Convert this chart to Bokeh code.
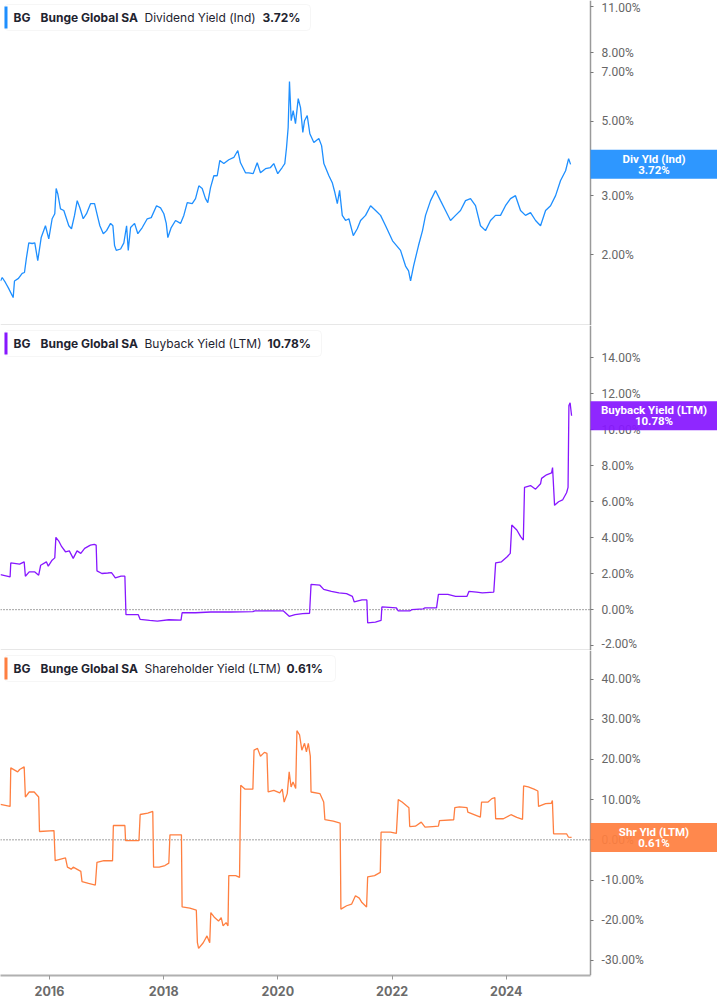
import math
import pandas as pd
from bokeh.plotting import figure
from bokeh.models import (Range1d, FixedTicker, PrintfTickFormatter, DatetimeTickFormatter,
                          Label, BoxAnnotation)
from bokeh.layouts import column
from bokeh.embed import file_html
from bokeh.resources import INLINE

# ---------------- data (decimal years, percent values) ----------------
div_t = [2015.142, 2015.172, 2015.230, 2015.282, 2015.364, 2015.387, 2015.457, 2015.522, 2015.562, 2015.597,
         2015.638, 2015.697, 2015.743, 2015.795, 2015.855, 2015.930, 2015.988, 2016.047, 2016.093, 2016.117,
         2016.145, 2016.193, 2016.251, 2016.338, 2016.385, 2016.438, 2016.485, 2016.531, 2016.590, 2016.648,
         2016.718, 2016.788, 2016.846, 2016.881, 2016.941, 2016.998, 2017.068, 2017.109, 2017.138, 2017.168,
         2017.244, 2017.301, 2017.349, 2017.378, 2017.419, 2017.489, 2017.546, 2017.624, 2017.711, 2017.781,
         2017.874, 2017.944, 2018.002, 2018.044, 2018.072, 2018.131, 2018.207, 2018.294, 2018.352, 2018.412,
         2018.499, 2018.557, 2018.615, 2018.674, 2018.732, 2018.772, 2018.820, 2018.878, 2018.937, 2018.983,
         2019.053, 2019.140, 2019.228, 2019.298, 2019.345, 2019.433, 2019.490, 2019.567, 2019.638, 2019.695,
         2019.783, 2019.871, 2019.928, 2019.998, 2020.075, 2020.121, 2020.151, 2020.180, 2020.203, 2020.233,
         2020.268, 2020.308, 2020.356, 2020.396, 2020.436, 2020.466, 2020.513, 2020.559, 2020.629, 2020.716,
         2020.764, 2020.804, 2020.892, 2020.951, 2020.997, 2021.039, 2021.079, 2021.126, 2021.184, 2021.242,
         2021.319, 2021.389, 2021.447, 2021.534, 2021.622, 2021.710, 2021.797, 2021.885, 2022.007, 2022.147,
         2022.235, 2022.288, 2022.323, 2022.375, 2022.462, 2022.532, 2022.585, 2022.673, 2022.760, 2022.848,
         2022.935, 2023.023, 2023.111, 2023.198, 2023.286, 2023.373, 2023.461, 2023.548, 2023.636, 2023.724,
         2023.811, 2023.899, 2023.986, 2024.074, 2024.161, 2024.249, 2024.336, 2024.424, 2024.512, 2024.599,
         2024.687, 2024.774, 2024.862, 2024.949, 2025.037, 2025.090, 2025.124]
div_v = [1.67, 1.71, 1.65, 1.59, 1.49, 1.67, 1.70, 1.76, 1.77, 1.96,
         2.17, 2.16, 2.17, 1.92, 2.25, 2.44, 2.23, 2.56, 2.65, 3.15,
         3.04, 2.74, 2.71, 2.44, 2.39, 2.62, 2.90, 2.76, 2.56, 2.65,
         2.84, 2.84, 2.58, 2.44, 2.31, 2.36, 2.48, 2.44, 2.13, 2.06,
         2.08, 2.17, 2.44, 2.06, 2.41, 2.48, 2.31, 2.41, 2.56, 2.58,
         2.80, 2.76, 2.65, 2.48, 2.25, 2.41, 2.53, 2.48, 2.62, 2.86,
         2.84, 2.94, 3.21, 3.15, 2.94, 2.86, 3.17, 3.44, 3.44, 3.82,
         3.74, 3.84, 3.90, 4.09, 3.76, 3.51, 3.51, 3.49, 3.76, 3.51,
         3.61, 3.64, 3.74, 3.49, 3.64, 3.74, 4.17, 4.79, 6.57, 5.02,
         5.38, 4.92, 5.84, 5.49, 4.63, 5.02, 5.20, 4.59, 4.32, 4.44,
         4.23, 3.74, 3.44, 3.28, 3.06, 2.84, 3.11, 2.62, 2.53, 2.56,
         2.28, 2.39, 2.53, 2.62, 2.80, 2.71, 2.62, 2.44, 2.20, 2.06,
         1.85, 1.79, 1.67, 1.85, 2.13, 2.36, 2.62, 2.90, 3.11, 2.90,
         2.71, 2.53, 2.62, 2.71, 2.90, 2.94, 2.80, 2.44, 2.36, 2.53,
         2.62, 2.62, 2.80, 2.94, 3.00, 2.71, 2.62, 2.67, 2.53, 2.44,
         2.71, 2.80, 3.00, 3.33, 3.56, 3.87, 3.72]

bb_t = [2015.142, 2015.310, 2015.322, 2015.477, 2015.557, 2015.578, 2015.645, 2015.744, 2015.811, 2015.846,
        2015.946, 2015.979, 2016.046, 2016.093, 2016.112, 2016.160, 2016.214, 2016.280, 2016.347, 2016.415,
        2016.482, 2016.548, 2016.615, 2016.716, 2016.783, 2016.816, 2016.830, 2016.916, 2017.018, 2017.084,
        2017.117, 2017.151, 2017.252, 2017.319, 2017.338, 2017.554, 2017.587, 2017.753, 2017.888, 2018.089,
        2018.303, 2018.322, 2018.557, 2018.825, 2019.160, 2019.562, 2019.596, 2019.830, 2020.098, 2020.198,
        2020.300, 2020.433, 2020.554, 2020.580, 2020.734, 2020.801, 2020.935, 2021.068, 2021.201, 2021.303,
        2021.336, 2021.471, 2021.557, 2021.571, 2021.706, 2021.806, 2021.820, 2022.074, 2022.107, 2022.309,
        2022.342, 2022.543, 2022.576, 2022.778, 2022.811, 2022.977, 2023.111, 2023.312, 2023.347, 2023.480,
        2023.580, 2023.781, 2023.814, 2023.916, 2024.016, 2024.070, 2024.096, 2024.184, 2024.251, 2024.298,
        2024.319, 2024.424, 2024.512, 2024.599, 2024.617, 2024.704, 2024.792, 2024.809, 2024.844, 2024.914,
        2024.984, 2025.054, 2025.080, 2025.095, 2025.116, 2025.142]
bb_v = [1.95, 1.82, 2.60, 2.53, 2.66, 1.86, 2.10, 2.10, 1.92, 2.47,
        2.66, 2.42, 2.75, 2.88, 4.02, 3.83, 3.50, 3.22, 3.27, 2.85,
        3.27, 3.13, 3.41, 3.59, 3.63, 3.59, 2.16, 2.01, 2.04, 2.06,
        1.92, 1.77, 1.86, 1.86, -0.28, -0.28, -0.54, -0.60, -0.64, -0.56,
        -0.58, -0.17, -0.17, -0.13, -0.13, -0.11, -0.07, -0.07, -0.07, -0.37,
        -0.28, -0.22, -0.20, 1.41, 1.36, 1.13, 1.02, 0.93, 0.89, 0.74,
        0.43, 0.54, 0.54, -0.73, -0.69, -0.60, 0.15, 0.10, -0.07, -0.07,
        0.00, 0.05, 0.10, 0.10, 0.85, 0.85, 0.74, 0.74, 1.02, 0.98,
        0.93, 0.98, 2.60, 2.66, 2.94, 3.13, 4.71, 4.43, 4.06, 3.87,
        6.80, 6.90, 6.70, 7.00, 7.30, 7.50, 7.60, 7.90, 5.80, 6.00,
        6.10, 6.50, 6.80, 11.35, 11.50, 10.78]

sh_t = [2015.142, 2015.310, 2015.322, 2015.443, 2015.477, 2015.557, 2015.578, 2015.645, 2015.732, 2015.811,
        2015.825, 2016.079, 2016.100, 2016.280, 2016.314, 2016.380, 2016.415, 2016.548, 2016.569, 2016.683,
        2016.802, 2016.830, 2016.951, 2017.103, 2017.117, 2017.319, 2017.331, 2017.566, 2017.587, 2017.720,
        2017.808, 2017.822, 2017.921, 2018.021, 2018.089, 2018.109, 2018.310, 2018.322, 2018.457, 2018.571,
        2018.590, 2018.611, 2018.692, 2018.758, 2018.806, 2018.825, 2018.891, 2018.960, 2019.007, 2019.040,
        2019.093, 2019.126, 2019.140, 2019.261, 2019.328, 2019.349, 2019.427, 2019.562, 2019.582, 2019.643,
        2019.695, 2019.764, 2019.809, 2019.830, 2019.930, 2020.032, 2020.077, 2020.110, 2020.164, 2020.198,
        2020.231, 2020.265, 2020.312, 2020.333, 2020.379, 2020.419, 2020.466, 2020.499, 2020.532, 2020.567,
        2020.580, 2020.734, 2020.801, 2020.822, 2020.969, 2021.089, 2021.102, 2021.203, 2021.289, 2021.357,
        2021.424, 2021.471, 2021.552, 2021.571, 2021.692, 2021.792, 2021.806, 2021.972, 2022.074, 2022.107,
        2022.174, 2022.294, 2022.308, 2022.408, 2022.510, 2022.576, 2022.709, 2022.811, 2022.830, 2023.079,
        2023.098, 2023.179, 2023.312, 2023.326, 2023.546, 2023.567, 2023.681, 2023.748, 2023.800, 2023.814,
        2023.949, 2024.082, 2024.184, 2024.284, 2024.303, 2024.384, 2024.485, 2024.552, 2024.564, 2024.687,
        2024.787, 2024.806, 2024.827, 2025.054, 2025.088, 2025.142]
sh_v = [8.8, 8.3, 17.9, 16.9, 17.5, 18.15, 10.65, 11.9, 11.9, 10.65,
        2.07, 2.3, -5.2, -4.5, -6.8, -7.3, -6.8, -7.85, -10.4, -10.85,
        -11.25, -5.6, -5.2, -5.2, 3.57, 3.57, -0.18, -0.18, 6.3, 6.65,
        7.07, -6.8, -6.8, -6.4, -5.8, 1.25, 1.25, -16.7, -17.0, -17.5,
        -25.6, -27.0, -25.6, -23.9, -25.6, -18.1, -19.35, -20.2, -19.35, -21.4,
        -20.6, -21.4, -8.9, -8.9, -9.35, 13.6, 12.6, 12.6, 22.3, 22.75,
        20.8, 21.75, 21.5, 11.9, 12.3, 11.7, 12.6, 9.4, 11.5, 16.9,
        13.15, 14.4, 12.75, 27.15, 26.1, 22.3, 24.0, 21.9, 24.0, 20.8,
        11.9, 11.5, 9.4, 5.0, 4.65, 4.15, -17.25, -16.4, -16.0, -13.9,
        -14.5, -15.6, -16.7, -9.2, -8.9, -8.1, 1.9, 1.9, 1.6, 10.0,
        9.4, 8.0, 3.3, 3.4, 4.4, 3.15, 3.3, 3.4, 4.8, 5.0,
        8.0, 8.2, 8.0, 6.9, 5.65, 9.4, 9.4, 10.25, 10.5, 5.25,
        5.25, 6.25, 5.6, 5.1, 13.4, 13.15, 12.6, 12.15, 8.3, 9.0,
        9.1, 9.8, 1.5, 1.5, 0.65, 0.61]

x_tick_years = [2016, 2018, 2020, 2022, 2024]
div_ticks = [2, 3, 5, 7, 8, 11]
bb_ticks = [-2, 0, 2, 4, 6, 8, 10, 12, 14]
sh_ticks = [-30, -20, -10, 0, 10, 20, 30, 40]

panel_titles = ["Dividend Yield (Ind)", "Buyback Yield (LTM)", "Shareholder Yield (LTM)"]
panel_short = ["Div Yld (Ind)", "Buyback Yield (LTM)", "Shr Yld (LTM)"]
panel_last = [3.72, 10.78, 0.61]
colors = ["#1e8fff", "#8717ff", "#ff7f40"]

# ---------------- helpers ----------------
def dec_to_dt(vals):
    out = []
    for v in vals:
        y = int(v)
        a = pd.Timestamp(year=y, month=1, day=1)
        b = pd.Timestamp(year=y + 1, month=1, day=1)
        out.append(a + (b - a) * (v - y))
    return out

W = 717          # full frame width
AX = 590         # screen position of the price axis
RB = W - AX
FONT = "Inter"
AXFONT = "Roboto"
x_start_year, axis_year, x_end_year = 2015.142, 2025.475, 2027.699
x_start, axis_dt, x_end = dec_to_dt([x_start_year, axis_year, x_end_year])
axis_ms = axis_dt.value // 10**6
xr = Range1d(start=x_start, end=x_end)


def make_fig(yr, ytype, fh, with_x, bottom_border):
    p = figure(frame_width=W, frame_height=fh, x_axis_type="datetime", y_axis_type=ytype,
               x_range=xr, y_range=yr, y_axis_location="right",
               x_axis_location="below" if with_x else None,
               output_backend="svg", toolbar_location=None,
               min_border_left=0, min_border_right=0, min_border_top=0,
               min_border_bottom=bottom_border,
               background_fill_color="white", border_fill_color="white",
               outline_line_color=None)
    p.grid.visible = False
    ax = p.yaxis[0]
    ax.fixed_location = axis_ms
    ax.axis_line_color = "#9a9a9a"
    ax.axis_line_width = 1.5
    ax.major_tick_in = 0
    ax.major_tick_out = 3
    ax.major_tick_line_color = "#777777"
    ax.minor_tick_in = 0
    ax.minor_tick_out = 0
    ax.major_label_text_font = AXFONT
    ax.major_label_text_font_size = "12px"
    ax.major_label_text_color = "#666666"
    ax.major_label_standoff = 8
    ax.formatter = PrintfTickFormatter(format="%.2f%%")
    return p


def y_screen(p, v, ytype, fh):
    lo, hi = p.y_range.start, p.y_range.end
    if ytype == "log":
        return (math.log(v) - math.log(lo)) / (math.log(hi) - math.log(lo)) * fh
    return (v - lo) / (hi - lo) * fh


def hline(p, yv, color, width, dash):
    p.segment(x0=[x_start], y0=[yv], x1=[axis_dt], y1=[yv], line_color=color,
              line_width=width, line_dash=dash)


def decorate(p, idx, fh, ytype, top_off, box_right, value_x):
    c = colors[idx]
    # legend box (top-left)
    box = BoxAnnotation(left=4, right=box_right, top=fh - top_off, bottom=fh - top_off - 26,
                        left_units="screen", right_units="screen", top_units="screen", bottom_units="screen",
                        fill_color="white", fill_alpha=1.0, line_color="#e2e2e2", line_width=1, level="overlay")
    try:
        box.border_radius = 4
    except Exception:
        pass
    p.add_layout(box)
    bar = BoxAnnotation(left=4, right=7, top=fh - top_off - 2, bottom=fh - top_off - 24,
                        left_units="screen", right_units="screen", top_units="screen", bottom_units="screen",
                        fill_color=c, fill_alpha=1.0, line_color=None, level="overlay")
    p.add_layout(bar)
    cy = fh - top_off - 13
    parts = [("BG", 13, "bold"), ("Bunge Global SA", 40, "bold"),
             (panel_titles[idx], 144, "normal"), ("%.2f%%" % panel_last[idx], value_x, "bold")]
    for txt, xx, st in parts:
        p.add_layout(Label(x=xx, y=cy, x_units="screen", y_units="screen", text=txt,
                           text_font=FONT, text_font_size="12px", text_font_style=st,
                           text_color="#1f2430", text_baseline="middle", text_align="left",
                           level="overlay"))
    # value box on the right axis
    sy = y_screen(p, panel_last[idx], ytype, fh)
    vb = BoxAnnotation(left=AX, right=W, top=sy + 14.5, bottom=sy - 14.5,
                       left_units="screen", right_units="screen", top_units="screen", bottom_units="screen",
                       fill_color=c, fill_alpha=0.93, line_color=None, level="overlay")
    p.add_layout(vb)
    for txt, off in [(panel_short[idx], 5.5), ("%.2f%%" % panel_last[idx], -5.5)]:
        p.add_layout(Label(x=AX + RB / 2, y=sy + off, x_units="screen", y_units="screen", text=txt,
                           text_font=AXFONT, text_font_size="11.5px", text_font_style="bold",
                           text_color="white", text_baseline="middle", text_align="center",
                           level="overlay"))


H1, H2, H3 = 325, 325, 325

p1 = make_fig(Range1d(1.23, 11.46), "log", H1, False, 0)
p1.yaxis[0].ticker = FixedTicker(ticks=div_ticks)
p1.line(dec_to_dt(div_t), div_v, line_color=colors[0], line_width=1.3)
hline(p1, 1.23, "#cfcfcf", 2, "solid")
decorate(p1, 0, H1, "log", 4, 310, 262)

p2 = make_fig(Range1d(-2.27, 15.8), "linear", H2, False, 0)
p2.yaxis[0].ticker = FixedTicker(ticks=bb_ticks)
hline(p2, 0, "#444444", 1, "1 2")
p2.line(dec_to_dt(bb_t), bb_v, line_color=colors[1], line_width=1.3)
hline(p2, -2.27, "#cfcfcf", 2, "solid")
decorate(p2, 1, H2, "linear", 5, 321, 267)

p3 = make_fig(Range1d(-33.75, 47.1), "linear", H3, True, 30)
p3.yaxis[0].ticker = FixedTicker(ticks=sh_ticks)
hline(p3, 0, "#444444", 1, "1 2")
p3.line(dec_to_dt(sh_t), sh_v, line_color=colors[2], line_width=1.3)
decorate(p3, 2, H3, "linear", 5, 335, 286)
xa = p3.xaxis[0]
xa.bounds = (x_start.value // 10**6, axis_ms)
xa.ticker = FixedTicker(ticks=[pd.Timestamp(year=y, month=1, day=1).value // 10**6 for y in x_tick_years])
xa.formatter = DatetimeTickFormatter(years="%Y", months="%Y", days="%Y", hours="%Y",
                                     minutes="%Y", seconds="%Y", milliseconds="%Y",
                                     microseconds="%Y", minsec="%Y", hourmin="%Y")
xa.axis_line_color = "#b0b0b0"
xa.axis_line_width = 2
xa.major_tick_in = 0
xa.major_tick_out = 4
xa.major_tick_line_color = "#999999"
xa.minor_tick_in = 0
xa.minor_tick_out = 0
xa.major_label_text_font = FONT
xa.major_label_text_font_size = "12.5px"
xa.major_label_text_font_style = "bold"
xa.major_label_text_color = "#6b6b6b"
xa.major_label_standoff = 6

layout = column(p1, p2, p3, spacing=0)
open("out.html", "w").write(file_html(layout, INLINE))
